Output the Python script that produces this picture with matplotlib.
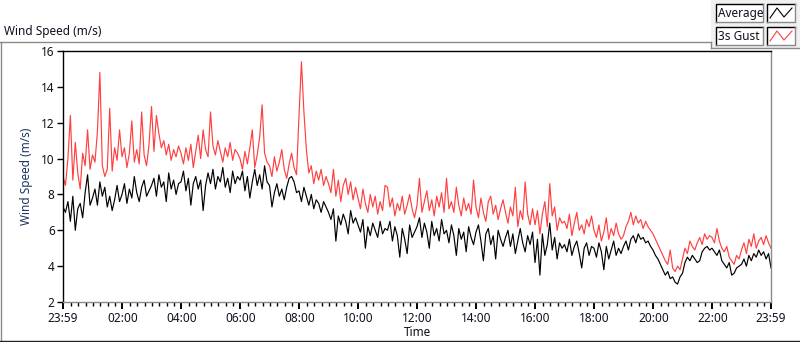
import numpy as np
import matplotlib.pyplot as plt
from matplotlib.lines import Line2D
from matplotlib.patches import Rectangle

# minutes after 23:59, one reading every 5 minutes
minutes = np.arange(0, 1441, 5)

average = [
    7.3, 7.0, 7.6, 6.5, 7.9, 6.0, 7.2, 7.5, 6.7, 8.1, 9.1, 7.4,
    7.8, 8.3, 7.4, 8.7, 7.9, 8.4, 7.3, 7.9, 7.1, 7.7, 8.5, 7.6,
    8.0, 8.6, 7.5, 8.3, 7.8, 9.0, 8.1, 7.6, 8.4, 8.8, 7.9, 8.2,
    8.5, 8.9, 7.9, 9.1, 8.4, 8.7, 7.6, 9.2, 8.3, 8.8, 8.0, 8.6,
    8.7, 9.3, 8.2, 8.9, 7.4, 8.6, 9.0, 8.3, 8.8, 7.1, 8.5, 9.2,
    8.6, 9.4, 8.3, 9.0, 8.7, 9.5, 8.4, 8.9, 8.1, 9.3, 8.6, 9.0,
    8.8, 9.3, 8.2, 9.0, 7.8, 8.7, 9.4, 8.5, 9.1, 8.3, 9.6, 8.7,
    8.5, 7.3, 8.1, 8.6, 7.9, 8.3, 7.7, 8.4, 8.9, 9.0, 8.7, 8.1,
    8.2, 7.6, 8.4, 7.9, 7.4, 8.0, 7.2, 7.7, 7.5, 7.0, 7.6, 7.3,
    7.0, 6.6, 7.2, 5.4, 6.8, 6.3, 6.9, 6.5, 5.8, 7.1, 6.4, 6.7,
    6.3, 5.9, 6.6, 5.0, 6.2, 5.7, 6.4, 6.0, 5.6, 6.5, 5.8, 6.1,
    6.0, 6.5, 5.4, 6.2, 5.7, 4.5, 6.1, 5.5, 4.7, 6.3, 5.6, 5.9,
    6.2, 6.7, 5.6, 6.4, 5.9, 5.0, 6.5, 5.7, 6.1, 5.4, 6.6, 5.8,
    6.0, 5.3, 6.3, 5.7, 4.6, 6.1, 5.5, 5.9, 4.8, 6.2, 5.6, 5.2,
    5.9, 6.3, 5.4, 4.3, 5.8, 6.1, 5.2, 5.7, 4.4, 6.0, 5.5, 5.1,
    5.6, 6.0, 5.1, 5.8, 4.7, 5.4, 6.1, 5.3, 4.8, 5.7, 5.2, 5.9,
    4.2, 5.5, 3.5, 5.8, 4.6, 5.2, 6.4, 4.9, 5.6, 4.4, 5.3, 5.0,
    5.2, 4.8, 5.5, 4.6, 5.1, 5.4, 4.7, 3.9, 5.0, 5.3, 4.6, 5.1,
    5.0, 4.5, 5.3, 4.8, 3.8, 5.1, 4.4, 4.9, 5.4, 4.6, 5.0, 4.7,
    5.1, 5.4, 4.9, 5.5, 5.7, 5.3, 5.8, 5.5, 5.6, 5.3, 5.4, 5.1,
    4.9, 4.6, 4.4, 4.1, 3.8, 3.5, 3.7, 3.3, 3.4, 3.1, 3.0, 3.4,
    3.6, 4.2, 4.5, 4.3, 4.6, 4.4, 4.2, 4.3, 4.8, 5.0, 5.1, 4.9,
    5.0, 4.8, 4.6, 4.9, 4.3, 4.1, 3.9, 4.2, 3.5, 3.6, 3.9, 4.0,
    4.1, 4.4, 4.0, 4.6, 4.3, 4.7, 4.5, 4.9, 4.6, 4.8, 4.4, 4.7,
    3.9,
]

gust = [
    9.0, 8.5, 10.0, 12.4, 8.8, 10.9, 9.2, 8.3, 10.3, 9.6, 11.6, 9.4,
    10.2, 9.8, 11.5, 14.8, 9.6, 9.0, 9.4, 12.8, 9.3, 10.6, 9.9, 11.6,
    10.1, 10.6, 9.5, 10.3, 12.1, 9.8, 10.5, 9.7, 12.6, 10.2, 9.6, 10.8,
    12.9, 10.4, 12.4, 11.4, 10.6, 11.0, 10.2, 10.8, 9.9, 10.5, 10.1, 10.7,
    10.3, 9.7, 10.6, 9.9, 10.8, 9.5, 10.4, 11.3, 10.0, 11.6, 10.5, 10.1,
    12.6, 10.7, 10.2, 11.0, 10.4, 9.8, 10.6, 10.1, 10.9, 9.9, 10.5, 10.3,
    10.0, 9.4, 10.4, 9.7, 10.6, 11.6, 9.5, 10.2, 11.2, 13.0, 10.3, 9.8,
    9.6, 9.0, 10.1, 9.3, 9.8, 10.5, 9.4, 8.9, 9.7, 10.3, 9.5, 9.1,
    12.4, 15.4, 12.6, 10.5, 9.2, 9.6, 8.6, 9.3, 8.8, 9.4, 8.5, 9.0,
    8.6, 8.1, 9.4, 7.9, 8.8, 7.6, 8.5, 8.9, 8.0, 8.7, 7.7, 8.4,
    7.8, 7.2, 8.3, 7.5, 7.0, 8.0, 7.3, 7.9, 6.9, 7.6, 7.1, 8.5,
    8.4, 7.3, 7.8, 6.8, 7.5, 7.1, 7.9, 6.9, 7.4, 8.0, 7.2, 6.7,
    7.4, 8.9, 7.0, 7.6, 8.2, 7.1, 7.7, 6.8, 7.9, 7.3, 8.1, 7.0,
    8.9, 7.2, 7.6, 7.0, 8.4, 7.4, 6.8, 7.8, 7.1, 7.5, 6.9, 8.8,
    7.3, 6.7, 7.8, 7.0, 6.5, 7.6, 7.9, 6.9, 7.4, 6.6, 7.2, 7.7,
    7.0, 6.4, 7.3, 6.8, 8.4, 6.2, 7.1, 6.6, 8.7, 6.9, 6.3, 7.2,
    6.3, 7.1, 5.8, 6.9, 7.6, 6.2, 8.6, 6.8, 7.3, 6.0, 6.7, 6.4,
    6.5, 6.1, 6.9, 5.7, 6.4, 7.0, 6.0, 6.3, 5.8, 6.6, 6.2, 6.8,
    6.0, 5.6, 6.3, 5.4, 5.9, 6.7, 5.5, 6.1, 5.7, 6.4, 5.8, 5.5,
    5.7, 6.2, 6.5, 7.0, 6.3, 6.8, 6.4, 6.6, 6.1, 6.5, 6.2, 6.0,
    5.8, 5.5, 5.2, 4.9, 4.6, 4.3, 4.1, 4.9, 3.9, 3.7, 4.0, 3.8,
    4.4, 5.0, 4.7, 5.4, 5.1, 4.9, 5.3, 5.6, 5.2, 5.8, 5.5, 5.7,
    5.6, 5.3, 6.1, 5.4, 5.0, 4.8, 5.1, 4.5, 4.3, 4.1, 4.6, 4.4,
    4.9, 5.3, 4.7, 5.5, 5.1, 5.8, 5.0, 5.4, 5.6, 5.2, 5.7, 5.3,
    5.0,
]

tick_pos = [0, 121, 241, 361, 481, 601, 721, 841, 961, 1081, 1201, 1321, 1440]
tick_labels = ["23:59", "02:00", "04:00", "06:00", "08:00", "10:00", "12:00",
               "14:00", "16:00", "18:00", "20:00", "22:00", "23:59"]

plt.rcParams['font.family'] = ['Noto Sans', 'DejaVu Sans']
txt = '#101020'

fig = plt.figure(figsize=(8, 3.42), dpi=100)
W, H = 800, 342

def fx(x):
    return x / W

def fy(y):
    return 1 - y / H

ax = fig.add_axes([fx(63), fy(302), fx(771 - 63), (302 - 51) / H])
ax.plot(minutes, gust, color='#ff4040', lw=0.85)
ax.plot(minutes, average, color='black', lw=0.85)

ax.set_xlim(0, 1440)
ax.set_ylim(2, 16)
ax.set_yticks(range(2, 17, 2))
ax.set_xticks(tick_pos)
ax.set_xticklabels(tick_labels)
ax.set_xticks(np.arange(16, 1440, 15), minor=True)
ax.tick_params(axis='both', which='major', direction='out', length=4,
               width=1, labelsize=8.5, labelcolor=txt, pad=2)
ax.tick_params(axis='x', which='major', length=5, width=1.4)
ax.tick_params(axis='x', which='minor', direction='out', length=3, width=1)
ax.set_xlabel("Time", fontsize=8.5, color=txt, labelpad=1)
ax.set_ylabel("Wind Speed (m/s)", fontsize=8.5, color='#1b3560', labelpad=6)
for side in ['top', 'left']:
    ax.spines[side].set_color('black')
for side in ['right', 'bottom']:
    ax.spines[side].set_color('#8a8a8a')
for s in ax.spines.values():
    s.set_linewidth(1)

# panel frame and caption
fig.add_artist(Line2D([fx(0), fx(711)], [fy(42), fy(42)], color='#8a8a8a', lw=1))
fig.add_artist(Line2D([fx(0.5), fx(0.5)], [fy(42), fy(341)], color='#8a8a8a', lw=1))
fig.add_artist(Line2D([fx(0), fx(800)], [fy(341), fy(341)], color='#202020', lw=1))
fig.text(fx(4), fy(31), "Wind Speed (m/s)", fontsize=8.5, color=txt, va='center')

# legend panel
fig.add_artist(Rectangle((fx(711), fy(48)), fx(89), 48 / H, facecolor='#f0f0f0',
                         edgecolor='none'))
fig.add_artist(Line2D([fx(711), fx(711)], [fy(42), fy(48)], color='#8a8a8a', lw=1))
fig.add_artist(Line2D([fx(711), fx(800)], [fy(48), fy(48)], color='#8a8a8a', lw=1))

def sunken_box(x0, y0, x1, y1):
    fig.add_artist(Rectangle((fx(x0), fy(y1)), fx(x1 - x0), (y1 - y0) / H,
                             facecolor='white', edgecolor='none'))
    fig.add_artist(Line2D([fx(x0), fx(x0), fx(x1)], [fy(y1), fy(y0), fy(y0)],
                          color='black', lw=1))
    fig.add_artist(Line2D([fx(x0), fx(x1), fx(x1)], [fy(y1), fy(y1), fy(y0)],
                          color='#8a8a8a', lw=1))

for name, col, y0 in [("Average", 'black', 4), ("3s Gust", '#ff4040', 27)]:
    sunken_box(716, y0, 763, y0 + 18)
    fig.text(fx(718), fy(y0 + 9), name, fontsize=8.5, color=txt, va='center')
    sunken_box(767, y0, 795, y0 + 18)
    fig.add_artist(Line2D([fx(770), fx(777), fx(784), fx(792)],
                          [fy(y0 + 14), fy(y0 + 4), fy(y0 + 13), fy(y0 + 4)],
                          color=col, lw=0.8))

fig.savefig('out.png', dpi=100)
